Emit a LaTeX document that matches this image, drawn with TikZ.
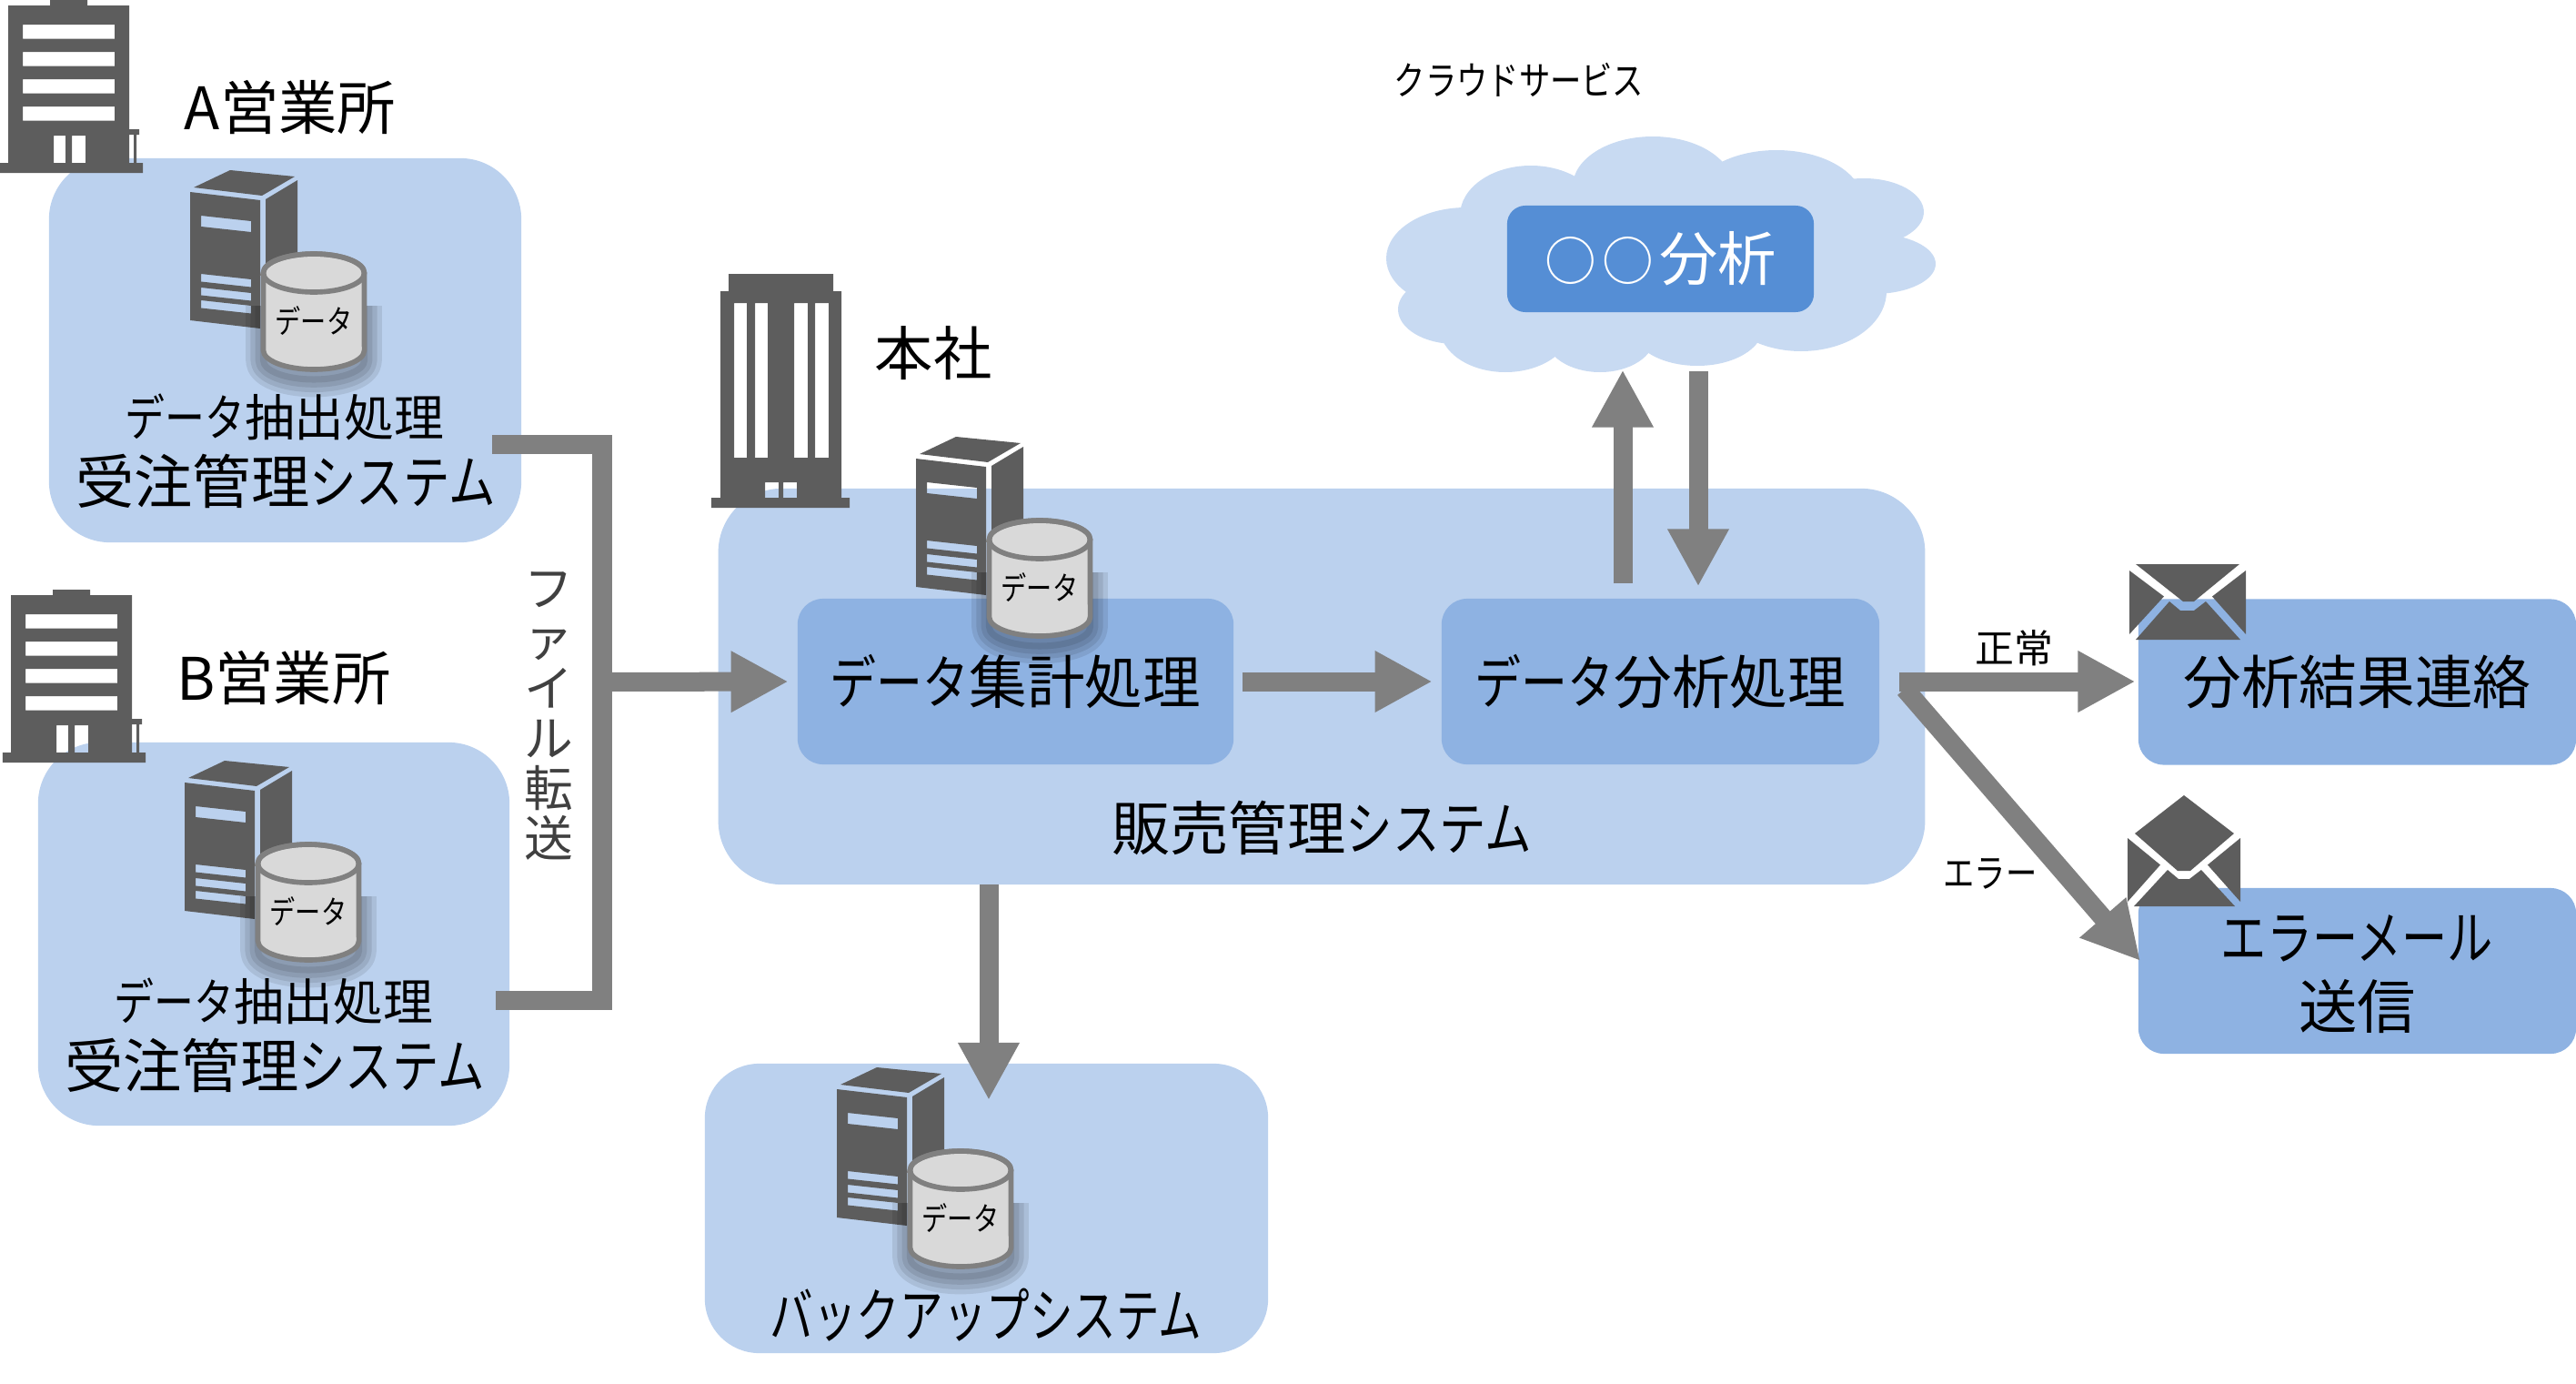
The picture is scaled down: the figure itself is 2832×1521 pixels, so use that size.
\documentclass[tikz,border=0pt]{standalone}
\usepackage{fontspec}
\setmainfont{Noto Sans CJK JP}
\usetikzlibrary{arrows.meta}

\definecolor{sysblue}{HTML}{BBD1EE}
\definecolor{procblue}{HTML}{8EB2E2}
\definecolor{cloudblue}{HTML}{C8DAF2}
\definecolor{svcblue}{HTML}{558ED5}
\definecolor{flowgrey}{HTML}{808080}
\definecolor{icongrey}{HTML}{5D5D5D}

\newcommand{\kana}[1]{\scalebox{.8}[1]{#1}}
\newcommand{\ring}{\scalebox{.88}[.9]{○}\hspace{.1em}}
% outline of the disk body
\newcommand{\diskbody}{(-55.5,89) -- (-55.5,174) arc[start angle=180, end angle=360, x radius=.555cm, y radius=.21cm]
  -- (55.5,89) arc[start angle=0, end angle=180, x radius=.555cm, y radius=.21cm] -- cycle}

\tikzset{
  sysbox/.style={fill=sysblue, rounded corners=.67cm, inner sep=0pt},
  procbox/.style={fill=procblue, rounded corners=.28cm, minimum height=1.82cm, align=center, inner sep=0pt,
    font=\fontsize{18.1}{21.6}\selectfont},
  caption/.style={inner sep=0pt, align=center, font=\fontsize{18.3}{21.6}\selectfont},
  smallcaption/.style={inner sep=0pt, font=\fontsize{15.6}{17}\selectfont},
  tinycaption/.style={inner sep=0pt, font=\fontsize{12.2}{14}\selectfont},
  icon/.style={fill=icongrey, even odd rule},
  flowline/.style={draw=flowgrey, line width=.21cm},
  flow/.style={flowline, -{Triangle[length=.63cm,width=.63cm]}},
  officepic/.pic={
    \fill[icon] (55,0) rectangle (96,6) (0,179) rectangle (157,190)
      (142,142) rectangle (153,148) (147,148) rectangle (150,179);
    \fill[icon] (9,6) rectangle (142,179)
      \foreach \wy in {27,57,87,117} {(25,\wy) rectangle (126,\wy+15.5)}
      (59,149) rectangle (72,179) (79,149) rectangle (94,179);
  },
  serverpic/.pic={
    % tower: three faces, slots left open
    \fill[icon] (0,0) -- (77,9) -- (77,150) -- (0,141) -- cycle
      (12,26) -- (67,32) -- (67,44) -- (12,38) -- cycle
      \foreach \sy in {90,105,119} {(12,\sy) -- (67,\sy+6) -- (67,\sy+14.5) -- (12,\sy+8.5) -- cycle};
    \fill[icon] (4,-5) -- (44,-24) -- (115,-17) -- (79,4) -- cycle;
    \fill[icon] (83,8) -- (118,-13) -- (118,130) -- (83,150) -- cycle;
    % disk in front of the tower, soft shadow below it
    \begin{scope}[shift={(136,0)}]
      \begin{scope}
        \clip (-80,125) rectangle (80,240);
        \foreach \w in {11,8,5,2}
          \draw[black, opacity=.09, line width=\w pt, line join=round, yshift=-.11cm] \diskbody;
      \end{scope}
      \path[draw=flowgrey, fill=black!15, line width=1.6pt] \diskbody;
      \draw[flowgrey, line width=1.6pt] (0,89) ellipse[x radius=.555cm, y radius=.21cm];
      \node[inner sep=0pt, font=\fontsize{10}{12}\selectfont] (label) at (0,142) {\kana{データ}};
    \end{scope}
  },
}

\begin{document}
\begin{tikzpicture}[x=.01cm, y=-.01cm]
\useasboundingbox (0,0) rectangle (2832,1521);

% system boxes
\node[sysbox, minimum width=5.19cm, minimum height=4.22cm] (sysA) at (313.5,385) {};
\node[sysbox, minimum width=5.18cm, minimum height=4.21cm] (sysB) at (301,1026.5) {};
\node[sysbox, minimum width=13.26cm, minimum height=4.35cm, rounded corners=.7cm] (sales) at (1453,754.5) {};
\node[sysbox, minimum width=6.19cm, minimum height=3.18cm, rounded corners=.6cm] (backup) at (1084.5,1328) {};

% cloud, built from overlapping lobes
\fill[cloudblue] (1620,230) rectangle (2030,360);
\foreach \cx/\cy/\rx/\ry in {1612/284/88/56, 1683/237/78/55, 1817/205/88/55, 1953/222/95/57,
    2049/233/66/37, 2060/290/68/33, 1980/320/94/66, 1866/360/72/42,
    1759/370/60/39, 1655/360/72/49, 1600/340/63/38}
  \fill[cloudblue] (\cx,\cy) ellipse[x radius=\rx*.01cm, y radius=\ry*.01cm];

\node[fill=svcblue, rounded corners=.2cm, minimum width=3.37cm, minimum height=1.17cm, inner sep=0pt,
  text=white, font=\fontsize{18.3}{20}\selectfont] (svc) at (1825.5,284.5) {\ring\ring 分析};

% process boxes
\node[procbox, minimum width=4.79cm] (collect) at (1116.5,749) {\kana{データ}集計処理};
\node[procbox, minimum width=4.81cm] (analyse) at (1825.5,749) {\kana{データ}分析処理};
\node[procbox, minimum width=4.81cm] (report) at (2591.5,749.5) {分析結果連絡};
\node[procbox, minimum width=4.81cm] (errmail) at (2591.5,1067) {};

% buildings
\pic at (0,0) {officepic};
\pic at (3,648) {officepic};
\fill[icon] (801,301) rectangle (916,320) (782,547) rectangle (934,558);
\fill[icon] (792,320) rectangle (925,547)
  \foreach \wx/\ww in {807/14,830/14,873/15,896/15} {(\wx,333) rectangle (\wx+\ww,503)}
  (841,530) rectangle (856,547) (861,530) rectangle (876,547);

% servers
\pic (srvA) at (209,211) {serverpic};
\pic (srvB) at (203,860) {serverpic};
\pic (srvH) at (1007,504) {serverpic};
\pic (srvK) at (920,1197) {serverpic};

% captions
\node[caption] (capA) at (319,118) {A営業所};
\node[caption] (capB) at (312,745) {B営業所};
\node[caption] (capH) at (1026,388) {本社};
\node[smallcaption] (jobA) at (313,458) {\kana{データ}抽出処理};
\node[caption] (recvA) at (314,529) {受注管理\kana{システム}};
\node[smallcaption] (jobB) at (301,1100) {\kana{データ}抽出処理};
\node[caption] (recvB) at (302,1171) {受注管理\kana{システム}};
\node[caption] (salesname) at (1453,910) {販売管理\kana{システム}};
\node[caption] (backupname) at (1084,1445) {\scalebox{.74}[1]{バックアップシステム}};
\node[caption] (errtext) at (2591.5,1071) {\scalebox{.78}[1]{エラーメール}\\送信};
\node[tinycaption] (cloudname) at (1670,88) {\kana{クラウドサービス}};
\node[tinycaption] (okname) at (2214,712) {正常};
\node[tinycaption] (ngname) at (2188,960) {\kana{エラー}};
\node[inner sep=0pt, align=center, text=black!75, font=\fontsize{15.3}{15.6}\selectfont] (xfer) at (603,787)
  {フ\\ァ\\イ\\ル\\転\\送};

% connector ends
\coordinate (busA) at (541,488.5);
\coordinate (busB) at (545,1099.5);
\coordinate (busjoin) at (662,749.5);
\coordinate (upfrom) at (1784,641);
\coordinate (upto) at (1784,406.5);
\coordinate (downfrom) at (1867,408);
\coordinate (downto) at (1867,644.5);
\coordinate (backupfrom) at (1087,972);
\coordinate (backupto) at (1087,1209);
\coordinate (okfrom) at (2088,749);
\coordinate (okto) at (2347.5,749);
\coordinate (ngfrom) at (2094,757);
\coordinate (ngto) at (2353,1056);

% connectors
\draw[flowline] (busA) -| (busjoin) |- (busB);
\draw[flow, shorten >=.095cm] (busjoin) -- (collect.west);
\draw[flow, shorten <=.09cm, shorten >=.095cm] (collect.east) -- (analyse.west);
\draw[flow] (upfrom) -- (upto);
\draw[flow] (downfrom) -- (downto);
\draw[flow] (backupfrom) -- (backupto);
\draw[flow] (okfrom) -- (okto);
\draw[flow] (ngfrom) -- (ngto);

% envelopes
\fill[icon] (2348,620) -- (2462,620) -- (2412,661) -- (2400,661) -- cycle;
\fill[icon] (2341,627) -- (2379,655.5) -- (2341,697) -- cycle;
\fill[icon] (2469,627) -- (2432,655.5) -- (2469,697) -- cycle;
\fill[icon] (2348,703) -- (2385,661) -- (2397,671) -- (2412,671) -- (2425,661) -- (2463,703) -- cycle;
\fill[icon] (2401,874) -- (2456,916) -- (2408,957) -- (2394,957) -- (2347,916) -- cycle;
\fill[icon] (2339,921) -- (2375,950.5) -- (2339,991) -- cycle;
\fill[icon] (2463,921) -- (2427,950.5) -- (2463,991) -- cycle;
\fill[icon] (2346,996) -- (2383,956) -- (2395,966) -- (2407,966) -- (2420,956) -- (2457,996) -- cycle;
\end{tikzpicture}
\end{document}
